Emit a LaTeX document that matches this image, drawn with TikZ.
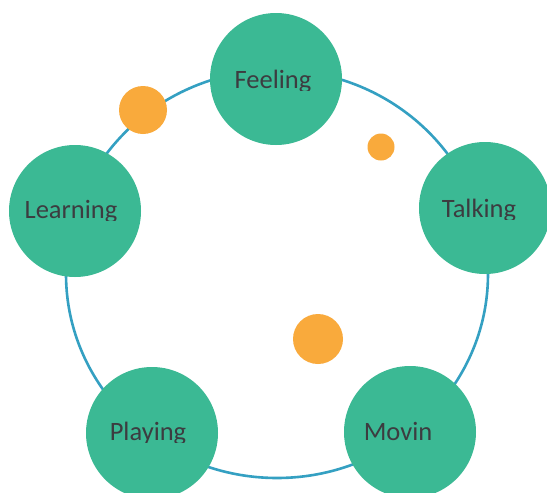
\documentclass[tikz,border=0pt]{standalone}
\usepackage{fontspec}
\setmainfont{Carlito}
\definecolor{ringblue}{RGB}{52,160,194}
\definecolor{nodegreen}{RGB}{59,185,148}
\definecolor{dotorange}{RGB}{249,170,60}
\definecolor{labelgray}{RGB}{60,60,64}
\tikzset{
  bigc/.style={circle, fill=nodegreen, draw=none, minimum size=132pt, inner sep=0pt},
  dot/.style={circle, fill=dotorange, draw=none, inner sep=0pt},
  lbl/.style={text=labelgray, font=\fontsize{26.5}{31}\selectfont, inner sep=0pt, anchor=base},
  ring/.style={draw=ringblue, line width=2.6pt}
}
\begin{document}
\begin{tikzpicture}[x=1pt,y=-1pt]
\useasboundingbox (0,0) rectangle (547,493);
\clip (0,0) rectangle (547,493);
\fill[white] (0,0) rectangle (547,493);
% ring
\draw[ring] (277,274) ellipse [x radius=211, y radius=204];
% big circles
\node[bigc] (feel) at (276,79) {};
\node[bigc] (learn) at (75,211) {};
\node[bigc] (talk) at (485,208) {};
\node[bigc] (play) at (152,433) {};
\node[bigc] (move) at (410,432) {};
% orange dots
\node[dot, minimum size=48pt] (d1) at (143,110) {};
\node[dot, minimum size=27pt] (d2) at (381,147) {};
\node[dot, minimum size=50pt] (d3) at (318,339) {};
% labels (clipped just below the baseline, as in the reference)
\begin{scope}
\clip (0,0) rectangle (547,90.5);
\node[lbl] (tfeel) at (273,88) {Feeling};
\end{scope}
\begin{scope}
\clip (0,0) rectangle (547,220);
\node[lbl] (tlearn) at (71,218) {Learning};
\end{scope}
\begin{scope}
\clip (0,0) rectangle (547,219.5);
\node[lbl] (ttalk) at (479,217) {Talking};
\end{scope}
\begin{scope}
\clip (0,0) rectangle (547,442);
\node[lbl] (tplay) at (148,440) {Playing};
\end{scope}
\node[lbl] (tmove) at (398,440) {Movin};
\end{tikzpicture}
\end{document}
